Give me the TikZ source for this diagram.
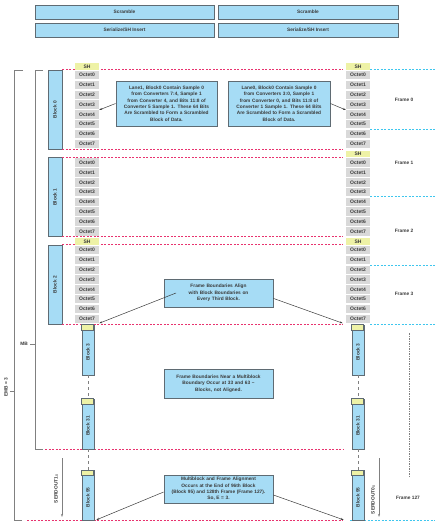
\documentclass[tikz,border=0pt]{standalone}
\usepackage{fontspec}
\setmainfont{Liberation Sans}
\usetikzlibrary{arrows.meta,positioning,calc}
\definecolor{blockblue}{HTML}{A6DCF5}
\definecolor{octgray}{HTML}{D9D9D9}
\definecolor{shyellow}{HTML}{EEF2A6}
\definecolor{edgegray}{HTML}{5F6B73}
\definecolor{txtgray}{HTML}{3A3A3A}
\definecolor{redbnd}{HTML}{E8336F}
\definecolor{cyanbnd}{HTML}{3FC6EE}

\begin{document}
\begin{tikzpicture}[x=1pt,y=-1pt,
    txt/.style={font=\fontsize{4.8}{6.4}\selectfont\bfseries, text=txtgray},
    topbox/.style={txt, draw=edgegray, line width=0.9pt, fill=blockblue, minimum height=14pt, inner sep=0pt},
    octet/.style={txt, font=\fontsize{5}{6}\selectfont\bfseries, fill=octgray, minimum width=24pt, minimum height=8.5pt, inner sep=0pt},
    shbox/.style={txt, font=\fontsize{5}{6}\selectfont\bfseries, fill=shyellow, minimum width=24pt, minimum height=6.5pt, inner sep=0pt},
    blk/.style={txt, draw=edgegray, line width=0.7pt, fill=blockblue, inner sep=0pt},
    callout/.style={txt, draw=edgegray, line width=0.8pt, fill=blockblue, align=center, inner sep=1pt},
    redbound/.style={draw=redbnd, dash pattern=on 2pt off 1.5pt, line width=1pt},
    cyanbound/.style={draw=cyanbnd, dash pattern=on 2pt off 1.5pt, line width=1pt},
    bracket/.style={draw=gray, line width=0.8pt},
    pointer/.style={draw=txtgray, line width=0.5pt, -{Stealth[length=3pt,width=2pt]}}
  ]
  \useasboundingbox (0,0) rectangle (435,526);

  % top stages
  \node[topbox, minimum width=179pt] (scrl) at (124.5,12) {Scramble};
  \node[topbox, minimum width=180pt] (scrr) at (308,12) {Scramble};
  \node[topbox, minimum width=179pt] (serl) at (124.5,30) {Serialize/SH Insert};
  \node[topbox, minimum width=180pt] (serr) at (308,30) {Serialize/SH Insert};

  % frame boundaries
  \foreach \yb in {70,130,197,265,324}
    \draw[cyanbound] (370,\yb) -- (435,\yb);
  \draw[cyanbound] (350,520) -- (435,520);

  % blocks 0..2 with octets
  \foreach \blk/\ytop in {0/70,1/157.5,2/245} {
    \node[blk, rotate=90, minimum width=79pt, minimum height=14pt] (lb\blk) at (55,\ytop+39.5) {Block \blk};
    \foreach \i in {0,...,7} {
      \node[octet] (lo\blk-\i) at (87,\ytop+5.2+9.8*\i) {Octet\i};
      \node[octet] (ro\blk-\i) at (358,\ytop+5.2+9.8*\i) {Octet\i};
    }
    \node[shbox] (rsh\blk) at (358,\ytop-3.5) {SH};
    \draw[redbound] (lb\blk.south east) -- ($(lb\blk.south east -| ro\blk-0.west)+(-3,0)$);
    \draw[redbound] (lb\blk.south west) -- ($(lb\blk.south west -| ro\blk-0.west)+(-3,0)$);
  }
  \node[shbox] (lsh0) at (87,66.5) {SH};
  \node[shbox] (lsh2) at (87,241.5) {SH};

  % later blocks
  \draw[redbound] (45,449) -- (343,449);
  \draw[redbound] (27,520) -- (343,520);
  \foreach \blk/\yc in {3/350,31/424,95/495.5} {
    \node[blk, minimum width=12pt, minimum height=50pt] (lb\blk) at (88,\yc) {};
    \node[blk, minimum width=12pt, minimum height=50pt] (rb\blk) at (358,\yc) {};
    \draw[edgegray, line width=0.7pt, fill=shyellow] (lb\blk.north west) rectangle ++(12,5.5);
    \draw[edgegray, line width=0.7pt, fill=shyellow] (rb\blk.north west) rectangle ++(12,5.5);
    \node[txt, rotate=90] at ($(lb\blk)+(0,2)$) {Block \blk};
    \node[txt, rotate=90] at ($(rb\blk)+(0,2)$) {Block \blk};
  }
  \draw[gray, dashed, line width=0.6pt] (lb3.south) -- (lb31.north);
  \draw[gray, dashed, line width=0.6pt] (lb31.south) -- (lb95.north);
  \draw[gray, dashed, line width=0.6pt] (rb3.south) -- (rb31.north);
  \draw[gray, dashed, line width=0.6pt] (rb31.south) -- (rb95.north);
  \draw[gray, dash pattern=on 1.5pt off 1pt, line width=0.5pt] (409,333) -- (409,476);

  % frame labels
  \node[txt] (f0) at (404,100) {Frame 0};
  \node[txt] (f1) at (404,163) {Frame 1};
  \node[txt] (f2) at (404,231) {Frame 2};
  \node[txt] (f3) at (404,294) {Frame 3};
  \node[txt] (f127) at (408,498) {Frame 127};

  % lane outputs
  \coordinate (sd1a) at (62,458);
  \coordinate (sd1b) at (62,517);
  \coordinate (sd0a) at (379,458);
  \coordinate (sd0b) at (379,517);
  \draw[pointer, draw=gray] (sd1a) -- (sd1b);
  \draw[pointer, draw=gray] (sd0a) -- (sd0b);
  \node[txt, rotate=90] (sd1) at (56,489) {SERDOUT1{\fontsize{3.6}{4}\selectfont±}};
  \node[txt, rotate=90] (sd0) at (373,500) {SERDOUT0{\fontsize{3.6}{4}\selectfont±}};

  % multiblock brackets
  \draw[bracket] (23,70) -- (14,70) -- (14,520) -- (22,520);
  \draw[bracket] (10,391) -- (14,391);
  \node[txt, rotate=90] (emb) at (6,387) {EMB = 3};
  \draw[bracket] (43,70) -- (35,70) -- (35,449) -- (43,449);
  \draw[bracket] (30,344) -- (35,344);
  \node[txt] (mb) at (24,344) {MB};

  % callouts
  \node[callout, text width=99pt, minimum height=45pt] (ca) at (166.5,103.5)
    {Lane1, Block0 Contain Sample 0\\from Converters 7:4, Sample 1\\from Converter 4, and Bits 11:8 of\\Converter 5 Sample 1. These 64 Bits\\Are Scrambled to Form a Scrambled\\Block of Data.};
  \node[callout, text width=100pt, minimum height=45pt] (cb) at (279,103.5)
    {Lane0, Block0 Contain Sample 0\\from Converters 3:0, Sample 1\\from Converter 0, and Bits 11:8 of\\Converter 1 Sample 1. These 64 Bits\\Are Scrambled to Form a Scrambled\\Block of Data.};
  \node[callout, text width=107pt, minimum height=28pt] (cc) at (218.5,293)
    {Frame Boundaries Align\\with Block Boundaries on\\Every Third Block.};
  \node[callout, text width=107pt, minimum height=29pt] (cd) at (218.5,383.5)
    {Frame Boundaries Near a Multiblock\\Boundary Occur at 33 and 63 --\\Blocks, not Aligned.};
  \node[callout, text width=107pt, minimum height=28pt] (ce) at (218.5,489)
    {Multiblock and Frame Alignment\\Occurs at the End of 96th Block\\(Block 95) and 128th Frame (Frame 127).\\So, E = 3.};

  \draw[pointer] (ca.west) -- (lo0-4.north east);
  \draw[pointer] (cb.east) -- (ro0-4.north west);
  \coordinate (ccin) at (176,293);
  \draw[pointer] (ccin) -- (lo2-7.south east);
  \draw[pointer] ($(cc.south east)+(0,-9)$) -- ($(ro2-7.south west)+(-3,0)$);
  \draw[pointer] ($(ce.west)+(0,3)$) -- ($(lb95.south east)+(2,-1)$);
  \draw[pointer] ($(ce.east)+(0,6)$) -- ($(rb95.south west)+(-8,-1)$);
\end{tikzpicture}
\end{document}
